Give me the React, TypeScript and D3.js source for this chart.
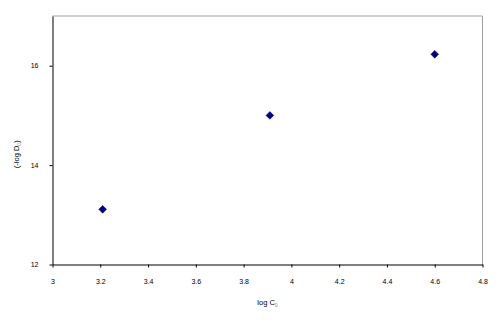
import React, { useEffect, useRef } from "react";
import * as d3 from "d3";

// data
const logC = [3.21, 3.91, 4.6];
const negLogD = [13.11, 15.0, 16.23];
const xTicks = [3, 3.2, 3.4, 3.6, 3.8, 4, 4.2, 4.4, 4.6, 4.8];
const yTicks = [12, 14, 16];

const App = () => {
  const svgRef = useRef<SVGSVGElement>(null);

  useEffect(() => {
    const width = 500,
      height = 329;
    const left = 52.5,
      right = 482.5,
      top = 16,
      bottom = 264.5;

    const svg = d3.select(svgRef.current);
    svg.selectAll("*").remove();
    svg.attr("width", width).attr("height", height);

    const x = d3.scaleLinear().domain([3, 4.8]).range([left, right]);
    const y = d3.scaleLinear().domain([12, 17]).range([bottom, top]);

    // plot area border (gray top/right)
    svg
      .append("path")
      .attr("d", `M${left},${top}H${right}V${bottom}`)
      .attr("fill", "none")
      .attr("stroke", "#a0a0a0")
      .attr("stroke-width", 1);

    const font = "Liberation Sans, Arial, sans-serif";

    // x axis
    const xAxis = svg
      .append("g")
      .attr("transform", `translate(0,${bottom})`)
      .call(
        d3
          .axisBottom(x)
          .tickValues(xTicks)
          .tickSize(3)
          .tickSizeOuter(0)
          .tickFormat((d) => String(d))
      );
    xAxis.select(".domain").attr("stroke", "#000");
    xAxis.selectAll("line").attr("stroke", "#000");
    xAxis
      .selectAll("text")
      .attr("font-family", font)
      .attr("font-size", 7)
      .attr("fill", "#000")
      .attr("y", 15);

    // y axis
    const yAxis = svg
      .append("g")
      .attr("transform", `translate(${left},0)`)
      .call(
        d3
          .axisLeft(y)
          .tickValues(yTicks)
          .tickSize(3)
          .tickSizeOuter(0)
          .tickFormat((d) => String(d))
      );
    yAxis.select(".domain").attr("stroke", "#000");
    yAxis.selectAll("line").attr("stroke", "#000");
    yAxis
      .selectAll("text")
      .attr("font-family", font)
      .attr("font-size", 7)
      .attr("fill", "#000")
      .attr("x", -14);

    // axis titles
    const xt = svg
      .append("text")
      .attr("x", (left + right) / 2)
      .attr("y", 305)
      .attr("text-anchor", "middle")
      .attr("font-family", font)
      .attr("font-size", 7.5)
      .attr("fill", "#000");
    xt.append("tspan").text("log C");
    xt.append("tspan").attr("font-size", 5).attr("dy", 1.5).attr("fill", "#888").text("0");

    const yt = svg
      .append("text")
      .attr("transform", `translate(19,${(top + bottom) / 2 + 14}) rotate(-90)`)
      .attr("text-anchor", "middle")
      .attr("font-family", font)
      .attr("font-size", 7.5)
      .attr("fill", "#000");
    yt.append("tspan").text("(-log D");
    yt.append("tspan").attr("font-size", 5).attr("dy", 1.5).attr("fill", "#888").text("0");
    yt.append("tspan").attr("dy", -1.5).text(")");

    // diamond markers
    const sym = d3.symbol().type(d3.symbolSquare).size(30);
    svg
      .append("g")
      .selectAll("path")
      .data(logC.map((c, i) => [c, negLogD[i]]))
      .join("path")
      .attr("d", sym)
      .attr("transform", (d) => `translate(${x(d[0])},${y(d[1])}) rotate(45)`)
      .attr("fill", "#000080")
      .attr("stroke", "#000080")
      .attr("stroke-width", 0.5);
  }, []);

  return (
    <svg
      ref={svgRef}
      style={{ position: "absolute", left: 0, top: 0, background: "#fff" }}
    />
  );
};

export default App;
